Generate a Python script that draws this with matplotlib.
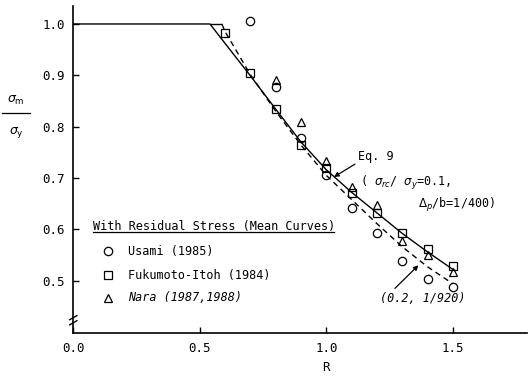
import matplotlib
matplotlib.use("Agg")
import matplotlib.pyplot as plt
from matplotlib.lines import Line2D

# ---- data ----
usami_R = [0.7, 0.8, 0.9, 1.0, 1.1, 1.2, 1.3, 1.4, 1.5]
usami_y = [1.006, 0.878, 0.777, 0.706, 0.641, 0.592, 0.539, 0.504, 0.487]

fuku_R = [0.6, 0.7, 0.8, 0.9, 1.0, 1.1, 1.2, 1.3, 1.4, 1.5]
fuku_y = [0.983, 0.904, 0.834, 0.764, 0.719, 0.670, 0.631, 0.592, 0.561, 0.529]

nara_R = [0.8, 0.9, 1.0, 1.1, 1.2, 1.3, 1.4, 1.5]
nara_y = [0.891, 0.809, 0.734, 0.683, 0.647, 0.578, 0.550, 0.517]

# Eq. 9 (sigma_rc/sigma_y = 0.1, Delta_p/b = 1/400) -- solid
eq9_R = [0.0, 0.54, 0.6, 0.7, 0.8, 0.9, 1.0, 1.1, 1.2, 1.3, 1.4, 1.5]
eq9_y = [1.0, 1.0, 0.962, 0.899, 0.834, 0.770, 0.716, 0.672, 0.632, 0.592, 0.556, 0.522]

# (0.2, 1/920) -- dashed
alt_R = [0.587, 0.6, 0.7, 0.8, 0.9, 1.0, 1.1, 1.2, 1.3, 1.4, 1.5]
alt_y = [1.0, 0.985, 0.901, 0.830, 0.764, 0.705, 0.658, 0.611, 0.566, 0.527, 0.494]

x_ticks = [0.0, 0.5, 1.0, 1.5]
y_ticks = [0.5, 0.6, 0.7, 0.8, 0.9, 1.0]

FONT = "DejaVu Sans Mono"
plt.rcParams["font.family"] = [FONT, "DejaVu Sans"]
plt.rcParams["mathtext.fontset"] = "dejavusans"

W, H = 529, 376
fig = plt.figure(figsize=(W / 100, H / 100), dpi=100)
ax = fig.add_axes([73.3 / W, 1 - 333.3 / H, (527 - 73.3) / W, (333.3 - 6) / H])
ax.set_xlim(0, 1.793)
ax.set_ylim(0.3975, 1.035)

for s in ["top", "right"]:
    ax.spines[s].set_visible(False)
for s in ["left", "bottom"]:
    ax.spines[s].set_linewidth(1.2)

ax.set_xticks(x_ticks)
ax.set_xticklabels([f"{v:.1f}" for v in x_ticks])
ax.set_yticks(y_ticks)
ax.set_yticklabels([f"{v:.1f}" for v in y_ticks])
ax.tick_params(direction="in", length=4, width=1, labelsize=9, pad=6)

# curves
ax.plot(eq9_R, eq9_y, color="black", lw=1.0)
ax.hlines(1.0, eq9_R[1], alt_R[0], color="black", lw=1.0)
ax.plot(alt_R, alt_y, color="black", lw=1.0, ls=(0, (4, 3)))

mk = dict(ls="none", mfc="none", mec="black", mew=0.9, ms=6)
ax.plot(usami_R, usami_y, marker="o", **mk)
ax.plot(fuku_R, fuku_y, marker="s", **mk)
ax.plot(nara_R, nara_y, marker="^", **mk)

# y-axis break mark
import matplotlib.transforms as mtrans
tr = mtrans.blended_transform_factory(ax.transAxes, ax.transData)
for yb in (0.428, 0.418):
    ax.plot([-0.008, 0.008], [yb - 0.004, yb + 0.004], color="black", lw=1,
            transform=tr, clip_on=False)

# axis labels
ax.text(1.0, 0.33, "R", ha="center", va="center", fontsize=9,
        transform=ax.transData, clip_on=False)
fig.text(16 / W, 1 - 100 / H, r"$\sigma_{\rm m}$", ha="center", va="center", fontsize=9)
fig.text(16 / W, 1 - 132 / H, r"$\sigma_{\rm y}$", ha="center", va="center", fontsize=9)
fig.add_artist(Line2D([2 / W, 30 / W], [1 - 113 / H, 1 - 113 / H], color="black", lw=0.9))

# legend (manual)
ax.text(0.078, 0.606, "With Residual Stress (Mean Curves)", fontsize=8.5,
        ha="left", va="center")
ax.plot([0.078, 1.03], [0.595, 0.595], color="black", lw=0.9, clip_on=False)
leg_items = [("o", "Usami (1985)", "normal", 0.557),
             ("s", "Fukumoto-Itoh (1984)", "normal", 0.511),
             ("^", "Nara (1987,1988)", "italic", 0.467)]
for m, lab, st, yy in leg_items:
    ax.plot([0.138], [yy], marker=m, **mk)
    ax.text(0.218, yy, lab, fontsize=8.5, style=st, ha="left", va="center")

# annotations
ax.text(1.125, 0.741, "Eq. 9", fontsize=8.5, ha="left", va="center")
ax.text(1.133, 0.690, r"( $\sigma_{rc}$/ $\sigma_y$=0.1,", fontsize=8.5,
        ha="left", va="center")
ax.text(1.363, 0.647, r"$\Delta_p$/b=1/400)", fontsize=8.5, ha="left", va="center")
ax.annotate("", xy=(1.03, 0.702), xytext=(1.113, 0.727),
            arrowprops=dict(arrowstyle="-|>", color="black", lw=0.9,
                            mutation_scale=7, shrinkA=0, shrinkB=0))
ax.text(1.212, 0.466, "(0.2, 1/920)", fontsize=8.5, style="italic",
        ha="left", va="center")
ax.annotate("", xy=(1.364, 0.530), xytext=(1.271, 0.485),
            arrowprops=dict(arrowstyle="-|>", color="black", lw=0.9,
                            mutation_scale=7, shrinkA=0, shrinkB=0))

fig.savefig("out.png", dpi=100)
